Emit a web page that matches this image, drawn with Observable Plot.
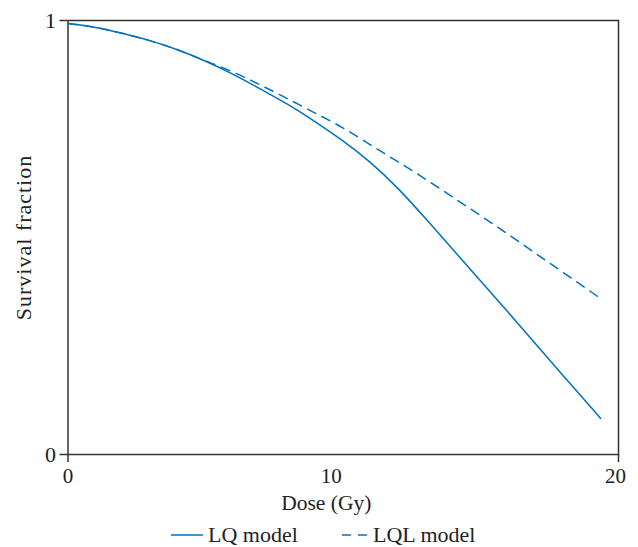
<!DOCTYPE html>
<html>
<head>
<meta charset="utf-8">
<script src="https://cdn.jsdelivr.net/npm/d3@7"></script>
<script src="https://cdn.jsdelivr.net/npm/@observablehq/plot@0.6"></script>
<style>
  body { margin: 0; background: white; }
  #chart { width: 638px; }
  .legend { position: relative; width: 638px; height: 37px; font-family: 'Liberation Serif', serif; font-size: 22px; color: #222; }
  .item { position: absolute; top: 12px; display: flex; align-items: center; }
  .item svg { margin-right: 5px; }
</style>
</head>
<body>
<div id="chart"></div>
<script>
// Dose values (Gy) and survival fractions
const dose      = [0, 1, 2, 3, 4, 5, 6, 7, 8, 9, 10, 11, 12, 13, 14, 15, 16, 17, 18, 19, 19.35];
const lqValues  = [0.993, 0.984, 0.970, 0.953, 0.932, 0.906, 0.876, 0.842, 0.806, 0.766, 0.722, 0.672, 0.612, 0.543, 0.471, 0.399, 0.327, 0.254, 0.181, 0.109, 0.083];
const lqlValues = [0.993, 0.984, 0.970, 0.953, 0.932, 0.907, 0.881, 0.851, 0.819, 0.786, 0.752, 0.713, 0.674, 0.634, 0.592, 0.550, 0.507, 0.463, 0.419, 0.375, 0.359];

const xTicks = [0, 10, 20];
const xTickMarks = [0, 20];
const xLabelShift = [0, -12, -3];
const yTicks = [0, 1];
const seriesNames = ["LQ model", "LQL model"];
const lineColor = "#0072BD";

const lqRows = dose.map((d, i) => ({dose: d, value: lqValues[i]}));
const lqlRows = dose.map((d, i) => ({dose: d, value: lqlValues[i]}));

const chart = Plot.plot({
  width: 638,
  height: 510,
  marginLeft: 67.5,
  marginRight: 20,
  marginTop: 20,
  marginBottom: 56,
  style: {fontFamily: "'Liberation Serif', serif", fontSize: "21px", color: "#222", background: "white", overflow: "visible"},
  x: {domain: [0, 20]},
  y: {domain: [0, 1]},
  marks: [
    Plot.frame({stroke: "#333", strokeWidth: 1.5}),
    Plot.axisY(yTicks, {tickSize: 8, tickPadding: 4, stroke: "#333", strokeWidth: 1.5, label: null, fontSize: 22, tickFormat: d => String(d)}),
    Plot.axisX(xTickMarks, {tickSize: 8, stroke: "#333", strokeWidth: 1.5, label: null, tickFormat: () => ""}),
    ...xTicks.map((t, i) => Plot.axisX([t], {tickSize: 0, tickPadding: 14, dx: xLabelShift[i], label: null, tickFormat: d => String(d)})),
    Plot.line(lqRows, {x: "dose", y: "value", stroke: lineColor, strokeWidth: 1.5, curve: "natural"}),
    Plot.line(lqlRows, {x: "dose", y: "value", stroke: lineColor, strokeWidth: 1.5, strokeDasharray: "9,7", curve: "natural"}),
    Plot.text(["Dose (Gy)"], {frameAnchor: "bottom", lineAnchor: "bottom", dy: 55, dx: -17, fontSize: 21.5}),
    Plot.text(["Survival fraction"], {frameAnchor: "left", textAnchor: "middle", rotate: -90, dx: -44, fontSize: 22})
  ]
});
document.getElementById("chart").appendChild(chart);
chart.querySelectorAll("text").forEach(t => { if (t.textContent === "Survival fraction") t.style.letterSpacing = "1px"; });

// Legend below the chart
const legend = document.createElement("div");
legend.className = "legend";
const lefts = [171, 342];
const dashes = [null, "9,7"];
seriesNames.forEach((name, i) => {
  const item = document.createElement("div");
  item.className = "item";
  item.style.left = lefts[i] + "px";
  const w = i === 0 ? 32 : 26;
  item.innerHTML = `<svg width="${w}" height="10"><line x1="0" y1="5" x2="${w}" y2="5" stroke="${lineColor}" stroke-width="1.5" ${dashes[i] ? `stroke-dasharray="${dashes[i]}"` : ""}/></svg><span>${name}</span>`;
  legend.appendChild(item);
});
document.body.appendChild(legend);
</script>
</body>
</html>
